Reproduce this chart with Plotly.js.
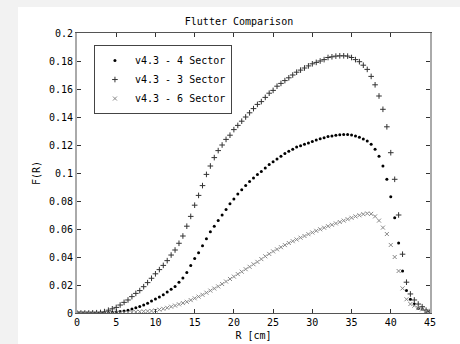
<!DOCTYPE html>
<html>
<head>
<meta charset="utf-8">
<script src="https://cdn.plot.ly/plotly-3.0.1.min.js"></script>
<style>
  html, body { margin: 0; padding: 0; background: #f2f2f2; width: 460px; height: 344px; overflow: hidden; }
  #chart { position: absolute; left: 18px; top: 7px; width: 442px; height: 337px; background: #fff; }
</style>
</head>
<body>
<div id="chart"></div>
<script>
// Radius [cm]
const radius = [0,0.5,1,1.5,2,2.5,3,3.5,4,4.5,5,5.5,6,6.5,7,7.5,8,8.5,9,9.5,10,10.5,11,11.5,12,12.5,13,13.5,14,14.5,15,15.5,16,16.5,17,17.5,18,18.5,19,19.5,20,20.5,21,21.5,22,22.5,23,23.5,24,24.5,25,25.5,26,26.5,27,27.5,28,28.5,29,29.5,30,30.5,31,31.5,32,32.5,33,33.5,34,34.5,35,35.5,36,36.5,37,37.5,38,38.5,39,39.5,40,40.5,41,41.5,42,42.5,43,43.5,44,44.5,45];

// v4.3 - 4 Sector
const sector4 = [0,0,0,0,0,0,0.0001,0.0002,0.0003,0.0005,0.0008,0.0011,0.0015,0.002,0.0028,0.0037,0.0047,0.0058,0.007,0.0086,0.010,0.0115,0.013,0.015,0.017,0.019,0.022,0.025,0.029,0.034,0.039,0.043,0.048,0.053,0.058,0.062,0.066,0.070,0.074,0.078,0.0815,0.085,0.088,0.091,0.094,0.0965,0.099,0.101,0.1035,0.106,0.108,0.110,0.112,0.114,0.1155,0.117,0.1185,0.1195,0.1205,0.1215,0.1225,0.1235,0.1245,0.1252,0.126,0.1265,0.127,0.1273,0.1275,0.1275,0.1272,0.1265,0.1255,0.1243,0.1228,0.1205,0.117,0.112,0.105,0.0955,0.083,0.068,0.050,0.030,0.016,0.0098,0.0064,0.0034,0.0028,0.0015,0.001];

// v4.3 - 3 Sector
const sector3 = [0,0,0,0,0.0001,0.0002,0.0004,0.001,0.002,0.003,0.004,0.0057,0.0076,0.0093,0.0117,0.014,0.016,0.0188,0.0217,0.0248,0.028,0.031,0.034,0.0374,0.0414,0.045,0.0498,0.055,0.062,0.069,0.077,0.084,0.091,0.099,0.105,0.111,0.116,0.120,0.124,0.127,0.131,0.134,0.137,0.140,0.143,0.146,0.149,0.151,0.154,0.157,0.159,0.162,0.164,0.166,0.168,0.170,0.172,0.1735,0.175,0.1765,0.178,0.179,0.180,0.181,0.1825,0.183,0.1835,0.1837,0.1837,0.1835,0.1825,0.181,0.1795,0.177,0.174,0.169,0.163,0.155,0.1455,0.133,0.1145,0.0955,0.070,0.042,0.022,0.0136,0.0093,0.0064,0.0045,0.002,0.001];

// v4.3 - 6 Sector
const sector6 = [0,0,0,0,0,0,0,0,0,0.0001,0.0001,0.0002,0.0003,0.0004,0.0005,0.0007,0.0009,0.0011,0.0013,0.0015,0.0018,0.0024,0.003,0.0037,0.0045,0.0053,0.0062,0.0071,0.008,0.0092,0.0105,0.0117,0.013,0.0145,0.016,0.0175,0.019,0.0207,0.0225,0.0243,0.026,0.0278,0.0295,0.0313,0.033,0.0348,0.0365,0.0385,0.0405,0.0422,0.044,0.0455,0.047,0.0485,0.050,0.0513,0.0525,0.0538,0.055,0.0563,0.0575,0.0587,0.0598,0.0609,0.062,0.063,0.064,0.065,0.066,0.067,0.068,0.069,0.0698,0.0706,0.0711,0.0708,0.069,0.066,0.061,0.0564,0.0486,0.040,0.030,0.0176,0.0098,0.0064,0.0052,0.0035,0.0026,0.0015,0.001];

const seriesNames = ['v4.3 - 4 Sector', 'v4.3 - 3 Sector', 'v4.3 - 6 Sector'];
const xTicks = [0,5,10,15,20,25,30,35,40,45];
const yTicks = [0,0.02,0.04,0.06,0.08,0.1,0.12,0.14,0.16,0.18,0.2];

const mono = 'DejaVu Sans Mono, monospace';

const traces = [
  { x: radius, y: sector4, name: seriesNames[0], type: 'scatter', mode: 'markers',
    marker: { symbol: 'circle', size: 3, color: '#000' } },
  { x: radius, y: sector3, name: seriesNames[1], type: 'scatter', mode: 'markers',
    marker: { symbol: 'cross-thin', size: 4, color: '#333', line: { color: '#333', width: 1 } } },
  { x: radius, y: sector6, name: seriesNames[2], type: 'scatter', mode: 'markers',
    marker: { symbol: 'x-thin', size: 4, color: '#888', line: { color: '#888', width: 1 } } }
];

const layout = {
  width: 442, height: 337,
  margin: { l: 59, r: 30, t: 26, b: 31 },
  paper_bgcolor: '#fff', plot_bgcolor: '#fff',
  font: { family: mono, size: 10, color: '#000' },
  showlegend: true,
  title: { text: 'Flutter Comparison', font: { family: mono, size: 10, color: '#000' },
           x: 0.5, xref: 'container', xanchor: 'center', y: 0.958, yanchor: 'middle' },
  xaxis: {
    range: [0, 45], tickvals: xTicks, ticks: 'inside', ticklen: 4, tickcolor: '#333',
    showgrid: false, zeroline: false, showline: true, linecolor: '#555', linewidth: 1, mirror: 'ticks',
    tickfont: { family: mono, size: 10, color: '#000' },
    title: { text: 'R [cm]', font: { family: mono, size: 10, color: '#000' }, standoff: 4 }
  },
  yaxis: {
    range: [0, 0.2], tickvals: yTicks, ticks: 'inside', ticklen: 4, tickcolor: '#333',
    showgrid: false, zeroline: false, showline: true, linecolor: '#aaa', linewidth: 2, mirror: 'ticks',
    tickfont: { family: mono, size: 10, color: '#000' },
    title: { text: 'F(R)', font: { family: mono, size: 10, color: '#000' }, standoff: 6 }
  },
  legend: {
    x: 0.048, y: 0.957, xanchor: 'left', yanchor: 'top',
    bgcolor: '#fff', bordercolor: '#444', borderwidth: 1,
    font: { family: mono, size: 10, color: '#000' },
    itemwidth: 30, tracegroupgap: 0
  }
};

Plotly.newPlot('chart', traces, layout, { displayModeBar: false, staticPlot: true });
</script>
</body>
</html>
